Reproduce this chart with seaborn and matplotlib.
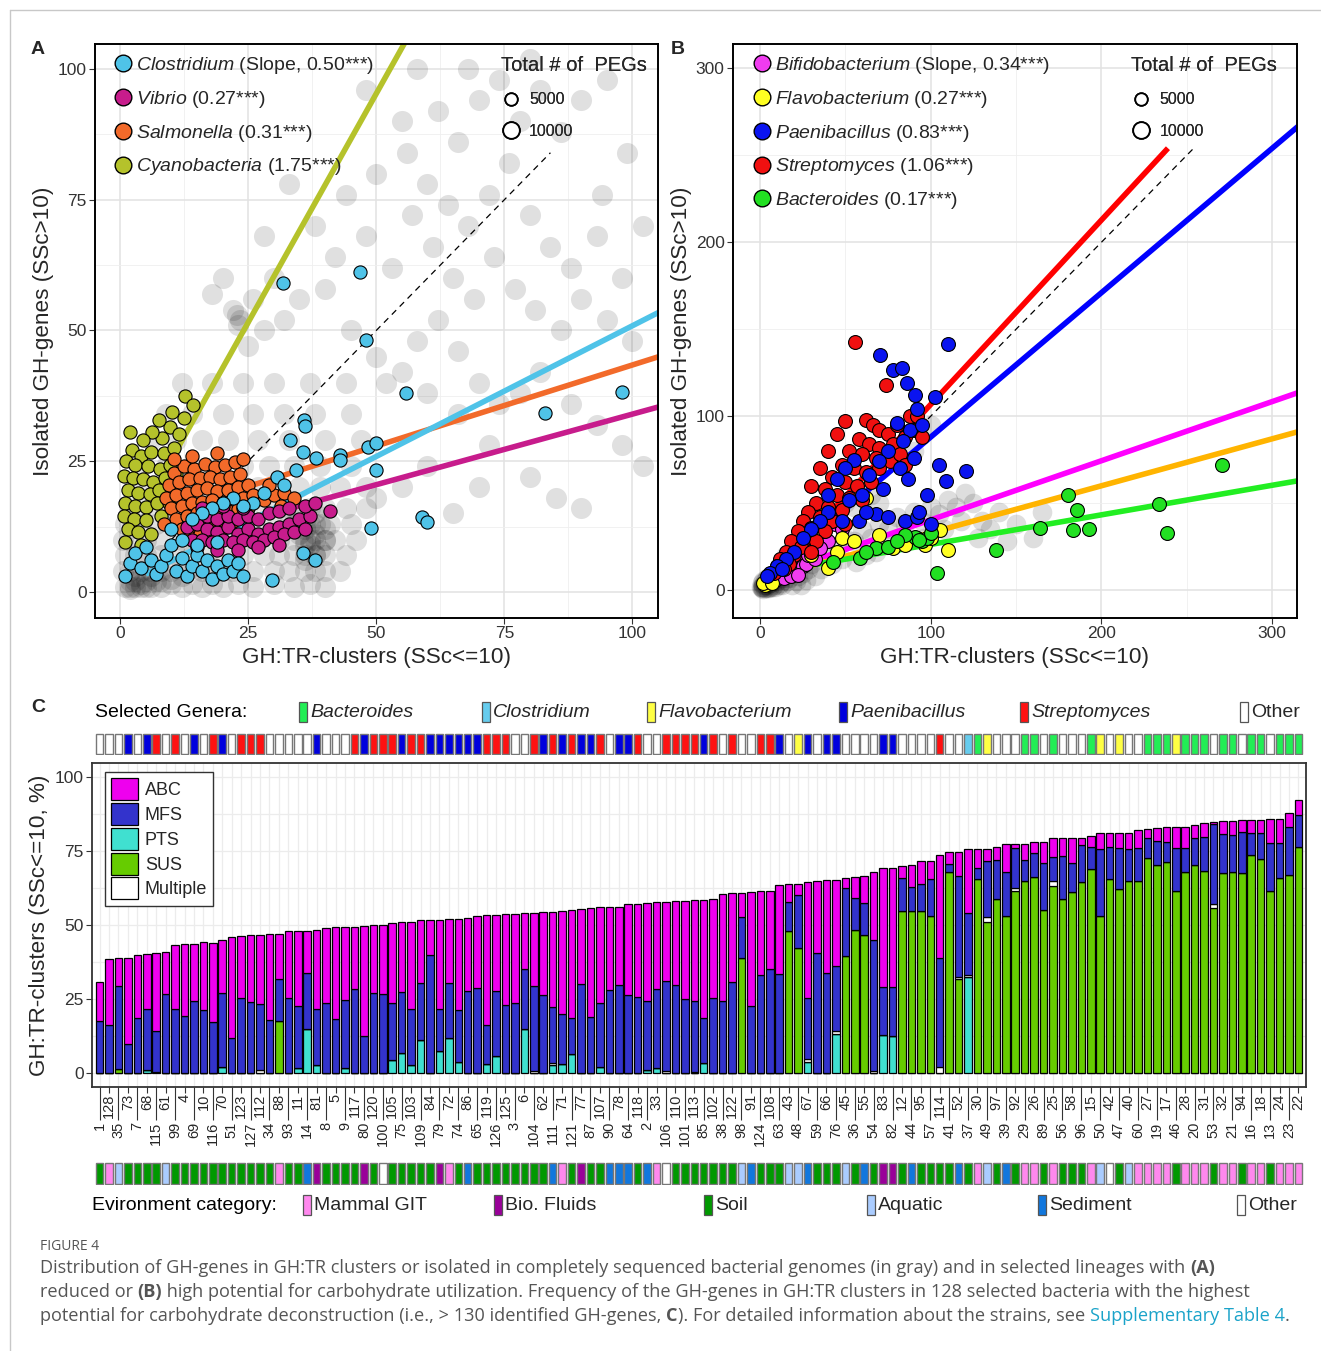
import numpy as np
import pandas as pd
import seaborn as sns
import matplotlib.pyplot as plt
from matplotlib.patches import Rectangle, Patch
from matplotlib.lines import Line2D

# ---------------- panel A data (GH:TR-clusters vs isolated GH-genes) ----------------
gray_a = [(1,1),(2,1),(3,1),(4,1),(5,1),(6,1),(8,1),(10,1.5),(12,1),(14,1.5),(16,1),(18,1.5),(20,1),(23,1.5),
          (26,1),(30,1.5),(34,1),(37,1.5),(40,1),
          (0.5,4),(2,4),(4,4),(6,4),(8,4),(10,4),(13,4),(16,4),(19,4),(22,4),(26,4),(30,4),(33,4),(36,4),(38,4),(40,4),(43,4),
          (1,7),(3,7),(5,7),(8,7),(11,7),(14,7),(17,7),(20,7),(24,7),(28,7),(31,7),(34,7),(36,7),(38,7),(40,7),(44,7),
          (0.5,10),(2,10),(5,10),(8,10),(12,10),(15,10),(19,10),(23,10),(27,10),(31,10),(34,10),(36,10),(38,10),(40,10),(42,10),(46,10),
          (1,13),(4,13),(7,13),(10,13),(14,13),(18,13),(22,13),(26,13),(30,13),(33,13),(36,13),(38,13),(41,13),(45,13),
          (2,16),(5,16),(9,16),(13,16),(17,16),(21,16),(25,16),(29,16),(33,16),(37,16),(40,16),(44,16),(48,16),
          (3,20),(7,20),(11,20),(15,20),(19,20),(23,20),(27,20),(31,20),(35,20),(39,20),(43,20),(48,20),
          (4,24),(9,24),(14,24),(19,24),(24,24),(29,24),(34,24),(39,24),(45,24),
          (6,29),(11,29),(16,29),(21,29),(27,29),(33,29),(40,29),(47,29),
          (9,34),(14,34),(20,34),(26,34),(32,34),(38,34),(45,34),
          (12,40),(18,40),(24,40),(30,40),(37,40),(44,40),(52,40),
          (37,9),(38,11),(36,12),(39,8),(35,14),(38,15),(36,6),(40,12),(37,10),(39,13),(36,9),(38,7),(35,11),
          (34,13),(40,10),(37,13),(3,2),(5,2),(2,2),(6,3),(4,1.5),(3,3),(7,2),(2,0.5),(8,2),(10,2.5),(12,3),
          (22.8,53),(23.5,52),(22,54),(23,51),(18,57),(20,60),
          (25,47),(28,50),(32,52),(26,56),(30,60),(35,56),(40,58),(45,50),(50,45),(55,42),(58,48),(62,52),(66,46),
          (70,40),(74,36),(78,38),(82,42),(88,36),(93,32),(98,28),(102,24),(42,64),(48,68),(53,62),(57,72),(61,66),
          (65,60),(69,56),(73,64),(77,58),(81,54),(86,50),(90,56),(95,52),(100,48),(44,76),(50,80),(56,84),(60,78),
          (64,74),(68,70),(72,76),(76,82),(80,72),(84,66),(88,62),(93,68),(98,60),(55,90),(62,92),(66,86),(70,94),
          (74,98),(78,90),(82,96),(86,88),(90,94),(95,98),(99,84),(68,100),(80,102),(94,76),(102,70),(48,96),(58,100),
          (38,70),(33,78),(28,68),(60,38),(66,34),(72,28),(80,22),(85,18),(90,16),(55,20),(60,24),(50,18),(65,15),(70,20)]

cyano_a = [(12.7,37.5),(14.2,35.8),(12.5,33.2),(10.2,34.5),(9.8,31.5),(7.5,32.8),(11.5,30.2),(8.2,29.5),(6.2,30.5),
           (4.5,29.0),(2.0,30.5),(2.3,27.2),(4.0,26.0),(6.0,26.8),(8.5,26.5),(10.5,27.5),(1.2,25.0),(3.0,24.2),
           (5.5,24.0),(7.8,23.5),(9.8,24.2),(0.8,22.2),(2.5,21.8),(4.5,21.5),(6.5,21.0),(8.8,21.8),(11.0,22.5),
           (1.5,19.5),(3.5,19.0),(5.8,18.8),(7.5,19.5),(1.0,17.0),(3.0,16.5),(5.0,16.2),(7.2,17.0),(0.8,14.5),
           (2.8,14.0),(5.0,13.8),(1.5,12.0),(3.5,11.5),(6.0,11.0),(1.0,9.5),(4.0,9.0),(8.0,14.5),(9.5,17.0)]
salm_a = [(10.5,22.8),(12.5,24.0),(14.5,23.5),(16.5,24.5),(18.5,23.8),(20.5,24.2),(22.5,24.8),(24.0,25.5),(9.5,20.5),
          (11.5,21.0),(13.5,21.5),(15.5,21.8),(17.5,22.0),(19.5,21.5),(21.5,22.0),(23.5,22.5),(9.0,18.0),(11.0,18.5),
          (13.0,19.0),(15.0,19.5),(17.0,19.8),(19.0,19.2),(21.0,19.5),(23.0,20.0),(25.0,20.5),(10.0,16.0),(12.0,16.5),
          (14.0,17.0),(16.0,17.2),(18.0,17.5),(20.0,17.0),(22.0,17.2),(24.0,18.0),(26.0,18.5),(11.0,14.0),(13.0,14.5),
          (15.0,15.0),(17.0,15.2),(19.0,15.0),(21.0,15.5),(23.0,15.8),(25.0,16.0),(12.0,12.0),(14.0,12.5),(16.0,13.0),
          (18.0,12.8),(20.0,13.2),(22.0,13.5),(13.5,10.5),(15.5,11.0),(17.5,10.8),(19.5,11.2),(28.0,17.5),(30.0,18.5),
          (32.0,19.0),(29.0,20.5),(31.5,16.5),(34.0,18.0),(10.5,25.5),(14.0,26.0),(19.0,26.5),(8.5,13.0)]
vib_a = [(13,12.5),(15,13),(17,12),(19,11.5),(21,12.5),(23,11),(25,12),(27,11),(29,12),(31,12.5),(33,13),(35,14),
         (37,14.5),(14,10),(16,10),(18,9.5),(20,10),(22,9.5),(24,10),(26,9.5),(28,10),(30,10.5),(32,11),(34,11.5),
         (36,12),(17,14.5),(19,14),(21,14.5),(23,14),(25,14.5),(27,14),(29,15),(31,15.5),(33,16),(36,16.5),(38,17),
         (41,15.5),(15,8.5),(19,8),(23,8),(27,8.5),(31,9),(24,16),(20,16.5),(16,16)]
clos_a = [(31.8,59.1),(46.9,61.2),(48,48.2),(55.9,38),(83,34.2),(98,38.2),(35.9,32.9),(36.1,31.7),(33.2,29),
          (35.7,26.8),(38.3,25.6),(43,26.2),(43,25.2),(48.4,27.7),(50,28.5),(50,23.3),(59,14.3),(60,13.4),(49,12.2),
          (29.7,2.3),(38,6.1),(35.7,7.5),(34.4,23.3),(30.7,22),(28,19),(32,20.5),(26,17),(24,16.5),(22,18),(20,17),
          (18,16),(16,15),(14,14),(1,3),(2,5.5),(3,7.5),(4,4.5),(5,8.5),(6,6),(7,3.5),(8,5),(9,7),(10,9),(11,4),
          (12,6.5),(13,3),(14,5),(15,7),(16,4),(17,6),(18,2.5),(19,5),(20,3.5),(21,6),(22,4),(23,5.5),(24,3),
          (15,9),(19,9.5),(10,12),(12,10)]

a_groups = ['Cyanobacteria', 'Salmonella', 'Vibrio', 'Clostridium']
a_points = [cyano_a, salm_a, vib_a, clos_a]
a_colors = ['#b5c22b', '#f26a2a', '#c71c8c', '#4fc3e8']
a_slopes = [1.75, 0.31, 0.27, 0.50]
a_intercepts = [7.8, 12.4, 7.0, 0.9]
a_line_span = [(8, 60), (8, 110), (12, 110), (5, 110)]
a_legend = [('Clostridium', ' (Slope, 0.50***)', '#4fc3e8'), ('Vibrio', ' (0.27***)', '#c71c8c'),
            ('Salmonella', ' (0.31***)', '#f26a2a'), ('Cyanobacteria', ' (1.75***)', '#b5c22b')]

# ---------------- panel B data ----------------
gray_b = [(1,1),(2,2),(3,1),(4,3),(5,2),(6,4),(8,3),(10,5),(12,4),(14,6),(16,5),(2,5),(4,7),(6,8),(8,9),(10,10),
          (12,11),(15,12),(18,10),(20,12),(22,8),(25,10),(28,12),(30,15),(18,16),(22,18),(26,20),(30,24),(35,28),
          (40,22),(45,25),(50,30),(55,28),(60,35),(65,30),(70,38),(75,35),(80,42),(85,38),(90,45),(95,40),(100,48),
          (105,44),(110,52),(115,48),(120,56),(125,50),(130,40),(135,35),(140,45),(150,38),(160,30),(40,40),(45,45),
          (50,50),(55,48),(60,60),(65,55),(70,50),(30,35),(35,38),(20,25),(25,30),(15,20),(1,4),(3,5),(5,1),(7,6),
          (9,2),(11,8),(13,3),(0.5,2),(2,0.5),(17,7),(19,3),(21,5),(24,3),(27,6),(32,8),(36,12),(42,15),(48,18),
          (56,16),(62,20),(68,22),(74,26),(84,28),(96,30),(108,35),(118,40),(128,30),(145,28),(165,45),(100,95),(90,80),
          (1,2),(3,3),(5,4),(7,2),(9,5),(11,3),(2,3),(4,1),(6,6),(8,6),(10,8),(13,7)]
strep_b = [(55.7,142.8),(73.8,118),(62,98),(66,95),(70,92),(75,90),(58,87),(64,84),(70,82),(78,84),(85,88),(52,80),
           (60,78),(68,76),(76,74),(48,72),(55,70),(62,68),(70,70),(42,65),(50,62),(57,60),(65,62),(38,58),(45,55),
           (52,53),(60,52),(33,50),(40,48),(48,46),(28,45),(35,42),(42,40),(50,38),(25,40),(30,36),(38,34),(22,34),
           (27,30),(33,28),(18,28),(24,25),(30,22),(15,22),(20,20),(12,18),(17,15),(10,14),(14,12),(8,10),(45,90),
           (40,80),(35,70),(30,60),(80,95),(88,100),(90,92),(95,88),(82,78),(85,72),(92,100),(50,97)]
paeni_b = [(110,141.6),(70.3,135.3),(78,126.6),(83,128),(86,119),(91,112),(102.5,111),(92,104),(120.7,68.5),
           (109,62.8),(98,55),(105,72),(64,66),(55,75),(50,70),(45,64),(80,96),(88,92),(95,95),(84,86),(75,80),
           (70,74),(82,70),(90,76),(60,55),(52,52),(40,45),(35,40),(48,40),(58,40),(68,44),(75,42),(85,40),(92,42),
           (100,38),(30,35),(25,30),(20,22),(15,18),(10,14),(6,10),(4,8),(13,12),(40,55),(62,45),(72,58),(87,64),(93,45)]
bifi_b = [(8,10),(10,12),(12,14),(14,13),(16,15),(18,14),(20,16),(22,15),(24,17),(26,18),(11,8),(13,9),(15,10),
          (17,11),(19,12),(21,11),(23,13),(25,14),(27,15),(9,6),(14,7),(18,8),(22,9),(28,20),(32,18),(44,38),(48,35),
          (40,28),(35,24),(30,22)]
flavo_b = [(3,3),(5,5),(2,4),(7,4),(37.5,45),(62,53),(40,13),(37,34),(78,24),(85,26),(105.5,34.5),(110,23),
           (96.7,26),(100,30),(92,30),(70,32),(48,30),(55,28),(30,20),(45,22)]
bact_b = [(270.6,72),(180.4,54.7),(186,46),(183.4,34.5),(192.7,35),(234,49.5),(238.4,32.8),(164,35.7),(138,23),
          (103.7,9.8),(90.8,30.5),(95,28),(98,30),(93,29),(58.6,18.4),(42.8,16.1),(68,24),(75,25),(85,32),(100,33),
          (62,22),(80,28)]

b_points = [bifi_b, flavo_b, bact_b, strep_b, paeni_b]
b_pt_colors = ['#f03cf0', '#ffff22', '#22e022', '#f01010', '#0a14f0']
b_slopes = [0.34, 0.27, 0.17, 1.06, 0.83]
b_intercepts = [6.4, 6.0, 9.3, 0.75, 5.0]
b_line_colors = ['#ff00ff', '#ffb400', '#22ee22', '#ff0000', '#0000ff']
b_line_span = [(20, 320), (20, 320), (20, 320), (5, 239), (5, 320)]
b_legend = [('Bifidobacterium', ' (Slope, 0.34***)', '#f03cf0'), ('Flavobacterium', ' (0.27***)', '#ffff22'),
            ('Paenibacillus', ' (0.83***)', '#0a14f0'), ('Streptomyces', ' (1.06***)', '#f01010'),
            ('Bacteroides', ' (0.17***)', '#22e022')]

# ---------------- panel C data (128 strains) ----------------
bar_labels = [1,128,35,73,7,68,115,61,99,4,69,10,116,70,51,123,127,112,34,88,93,11,14,81,8,5,9,117,80,120,100,105,
              75,103,109,84,79,72,74,86,65,119,126,125,3,6,104,62,111,71,121,77,87,107,90,78,64,118,2,33,106,110,101,113,
              85,102,38,122,98,91,124,108,63,43,48,67,59,66,76,45,36,55,54,83,82,12,44,95,57,114,41,52,37,30,49,97,
              39,92,29,26,89,25,56,58,96,15,50,42,47,40,60,27,19,17,46,28,20,31,53,32,21,94,16,18,13,24,23,22]

abc = [13.3,22.1,9.4,29.0,21.4,18.4,26.6,14.2,21.5,24.1,19.3,23.1,26.7,17.7,34.3,20.9,22.7,23.2,29.0,15.2,
       22.6,25.3,14.3,26.8,25.3,30.9,24.7,20.8,37.2,23.0,23.4,27.3,23.5,29.2,21.3,12.0,30.3,21.7,30.9,24.8,
       24.1,37.1,25.6,30.6,30.2,19.0,24.7,28.3,32.1,34.8,36.6,25.3,36.8,32.4,27.9,26.4,30.8,31.4,32.9,29.1,
       26.8,28.5,33.1,33.9,39.9,33.4,36.2,29.9,8.2,38.4,28.5,26.3,30.0,5.8,3.9,39.1,24.4,31.4,29.2,3.4,
       7.3,9.3,23.0,40.1,40.3,4.1,7.3,7.9,6.0,34.6,3.9,7.9,21.5,6.5,4.1,4.4,9.2,1.5,5.5,3.7,
       7.0,6.4,6.0,8.4,2.4,3.5,5.4,4.6,5.1,5.4,6.0,3.1,4.5,4.9,7.1,7.1,4.5,4.6,0.8,4.5,
       4.8,3.8,4.4,4.4,7.9,7.9,4.9,5.1]
mfs = [17.6,16.3,28.0,9.8,18.6,20.6,13.6,26.7,21.8,19.4,24.2,21.2,17.3,24.9,11.8,25.3,23.9,22.5,18.0,14.4,
       25.4,21.1,18.8,18.8,23.8,18.4,22.9,28.5,12.5,27.0,26.6,19.0,20.7,19.0,19.2,39.8,14.0,18.3,17.5,27.6,
       28.8,13.2,22.2,23.1,23.6,20.0,28.5,26.2,19.0,16.9,12.1,30.1,18.9,21.7,28.2,29.8,26.2,25.6,23.4,26.8,
       30.3,29.6,25.1,24.0,15.1,25.3,24.2,30.9,13.6,22.8,33.0,35.2,33.5,9.9,18.0,20.8,40.4,33.7,21.9,22.9,
       10.7,10.7,44.2,16.3,16.5,11.0,8.0,8.9,12.6,37.0,2.6,34.0,20.9,3.4,18.8,13.3,15.0,13.6,7.2,8.2,
       16.1,8.0,14.6,10.0,12.4,7.6,22.4,10.9,14.0,10.8,11.0,6.9,7.9,6.8,14.5,8.2,9.0,11.5,27.0,13.2,
       12.5,13.9,7.2,8.9,16.3,11.8,16.1,10.6]
pts = [0,0,0,0,0,1.2,0.5,0,0,0,0,0,0,2.2,0,0,0,0,0,0,
       0,1.7,15.0,2.8,0,0,1.7,0,0,0,0,4.5,6.7,2.8,11.2,0,7.5,12.0,3.7,0,
       0,3.0,5.6,0,0,15.0,0,0,2.8,3.0,6.4,0,0,1.9,0,0,0,0,1.1,1.7,
       0,0,0,0,3.4,0,0,0,0,0,0,0,0,0,0,3.7,0,0,13.1,0,
       0,0,0,12.7,12.5,0,0,0,0,0,0,0,32.6,0,0,0,0,0,0,0,
       0,0,0,0,0,0,0,0,0,0,0,0,0,0,0,0,0,0,0,0,
       0,0,0,0,0,0,0,0]
sus = [0,0,1.3,0,0,0,0,0,0,0,0,0,0,0,0,0,0,0,0,17.5,
       0,0,0,0,0,0,0,0,0,0,0,0,0,0,0,0,0,0,0,0,
       0,0,0,0,0,0,0,0,0,0,0,0,0,0,0,0,0,0,0,0,
       0,0,0,0,0,0,0,0,39.0,0,0,0,0,48.0,42.1,0,0,0,0,39.7,
       48.3,46.6,0,0,0,54.8,54.8,54.8,53.0,0,68.0,31.6,0,65.7,50.9,58.7,53.0,61.6,64.8,66.2,
       55.0,63.0,58.8,61.0,64.6,68.9,53.1,65.5,62.0,65.0,65.0,72.5,70.4,71.3,61.5,67.8,70.4,68.2,55.8,67.4,
       67.8,67.6,73.8,72.3,61.5,66.0,66.9,76.4]
mult = [0,0,0,0,0,0,0,0,0,0,0,0,0,0,0,0,0,0.9,0,0,
        0,0,0,0,0,0,0,0,0,0,0,0,0,0,0,0,0,0,0,0,
        0,0,0,0,0,0,0.8,0,0.6,0,0,0,0,0,0,0,0,0,0,0,
        0.8,0,0,0.5,0,0,0,0,0,0,0,0,0,0,0,1.0,0,0,1.0,0,
        0,0,0.8,0,0,0,0,0,0,2.0,0,1.0,0.5,0,1.8,0,0,0.8,0,0,
        0,2.0,0,0,0,0,0,0,0,0,0,0,0,0,0,0,0,0,1.2,0,
        0,0,0,0,0,0,0,0]

# selected genera strip (W other, B Paenibacillus, R Streptomyces, Y Flavobacterium, C Clostridium, G Bacteroides)
genus_strip = list('WWWBWBRWRWBWRBWRRRWWWWWBWWWRBRRRBRRBBBBBBRRRWWRBRBRBBRWBBRWWRRRR'
                   'BRWRWWRRBWYBWBBWWWWBBWWWWRWWCGYWWWGGWGWWWGYWYWWGGGYGGGWGGWGGWGGG')
genus_names = ['Bacteroides', 'Clostridium', 'Flavobacterium', 'Paenibacillus', 'Streptomyces', 'Other']
genus_codes = ['G', 'C', 'Y', 'B', 'R', 'W']
genus_colors = ['#22ee55', '#66ccee', '#ffff44', '#0000dd', '#ff1111', '#ffffff']

# environment strip (G soil, P mammal GIT, A aquatic, S sediment, F bio fluids, W other)
env_strip = list('GPAGGGGAGGGGGGGGGGGPGGSFGGGGFGWG'
                 'GGGGFPGSGGGGGGGGSPGFGGSSSGSPWGGG'
                 'GGGGASGGGAASGGGAGSGFFGSGGGGSGPAGS'
                 'GPPGPGGGPAWGAPPPPGPPPGPPGPPGPPP')
env_names = ['Mammal GIT', 'Bio. Fluids', 'Soil', 'Aquatic', 'Sediment', 'Other']
env_codes = ['P', 'F', 'G', 'A', 'S', 'W']
env_colors = ['#ff88ee', '#990099', '#009900', '#aaccff', '#1177dd', '#ffffff']

stack_names = ['PTS', 'SUS', 'Multiple', 'MFS', 'ABC']
stack_values = [pts, sus, mult, mfs, abc]
stack_colors = ['#40e0d0', '#66cc00', '#ffffff', '#3333cc', '#ee00ee']
legend_order = ['ABC', 'MFS', 'PTS', 'SUS', 'Multiple']

# ---------------- style ----------------
sns.set_theme(style='white')
plt.rcParams['font.family'] = ['Liberation Sans', 'DejaVu Sans']
plt.rcParams['mathtext.fontset'] = 'custom'
plt.rcParams['mathtext.it'] = 'Liberation Sans:italic'
plt.rcParams['mathtext.rm'] = 'Liberation Sans'
plt.rcParams['mathtext.bf'] = 'Liberation Sans:bold'

W, H = 1321, 1351
fig = plt.figure(figsize=(W / 100, H / 100), dpi=100)


def box(l, t, r, b):
    return [l / W, 1 - b / H, (r - l) / W, (b - t) / H]


def style_scatter(ax, xlim, ylim, major, minor_step):
    ax.set_xlim(*xlim)
    ax.set_ylim(*ylim)
    ax.set_xticks(major[0])
    ax.set_yticks(major[1])
    ax.set_xticks(np.arange(major[0][0] + minor_step[0] / 2, xlim[1], minor_step[0]), minor=True)
    ax.set_yticks(np.arange(major[1][0] + minor_step[1] / 2, ylim[1], minor_step[1]), minor=True)
    ax.grid(which='major', color='#e2e2e2', lw=1.1)
    ax.grid(which='minor', color='#efefef', lw=0.6)
    ax.set_axisbelow(True)
    for s in ax.spines.values():
        s.set_color('black')
        s.set_linewidth(1.4)
    ax.tick_params(which='major', length=4, width=0.8, color='#333333', labelsize=12.5,
                   labelcolor='#333333', pad=2, bottom=True, left=True)
    ax.tick_params(which='minor', length=0)


def to_df(points):
    return pd.DataFrame(points, columns=['x', 'y'])


def size_legend(ax, anchor):
    handles = [Line2D([], [], marker='o', ls='', mfc='white', mec='black', mew=1.3, ms=s) for s in (9, 12)]
    lg = ax.legend(handles, ['5000', '10000'], title='Total # of  PEGs', loc='upper right',
                   bbox_to_anchor=anchor, frameon=False, fontsize=11.5, title_fontsize=14.5,
                   alignment='left', handlelength=1.2, handletextpad=0.55, labelspacing=1.05, borderpad=0.2)
    ax.add_artist(lg)


def genus_legend(ax, entries, anchor_x):
    handles = [Line2D([], [], marker='o', ls='', mfc=c, mec='black', mew=1.0, ms=12) for _, _, c in entries]
    labels = [r'$\it{' + g + '}$' + rest for g, rest, _ in entries]
    lg = ax.legend(handles, labels, loc='upper left', bbox_to_anchor=(anchor_x, 1.008), frameon=False,
                   fontsize=14, handlelength=1.0, handletextpad=0.15, labelspacing=0.66, borderpad=0.3)
    ax.add_artist(lg)


# ---------------- panel A ----------------
axa = fig.add_axes(box(95, 44, 658, 618))
sns.scatterplot(data=to_df(gray_a), x='x', y='y', color='black', alpha=0.12, s=230, linewidth=0,
                legend=False, ax=axa, zorder=1)
axa.plot([10, 84], [10, 84], ls=(0, (5, 4)), color='black', lw=0.9, zorder=2)
for sl, ic, span, c in zip(a_slopes, a_intercepts, a_line_span, a_colors):
    xs = np.array(span)
    axa.plot(xs, ic + sl * xs, color=c, lw=4, solid_capstyle='butt', zorder=2)
for pts_, c in zip(a_points, a_colors):
    sns.scatterplot(data=to_df(pts_), x='x', y='y', color=c, edgecolor='black', linewidth=0.8, s=90,
                    legend=False, ax=axa, zorder=3)
style_scatter(axa, (-4.9, 105), (-5, 104.8), ([0, 25, 50, 75, 100], [0, 25, 50, 75, 100]), (25, 25))
axa.set_xlabel('GH:TR-clusters (SSc<=10)', fontsize=16.2, labelpad=4)
axa.set_ylabel('Isolated GH-genes (SSc>10)', fontsize=16.2, labelpad=3)
genus_legend(axa, a_legend, 0.005)
size_legend(axa, (1.0, 0.998))

# ---------------- panel B ----------------
axb = fig.add_axes(box(733, 44, 1297, 618))
sns.scatterplot(data=to_df(gray_b), x='x', y='y', color='black', alpha=0.13, s=200, linewidth=0,
                legend=False, ax=axb, zorder=1)
axb.plot([20, 254], [20, 254], ls=(0, (5, 4)), color='black', lw=0.9, zorder=2)
for sl, ic, span, c in zip(b_slopes, b_intercepts, b_line_span, b_line_colors):
    xs = np.array(span)
    axb.plot(xs, ic + sl * xs, color=c, lw=4, solid_capstyle='butt', zorder=2)
for pts_, c in zip(b_points, b_pt_colors):
    sns.scatterplot(data=to_df(pts_), x='x', y='y', color=c, edgecolor='black', linewidth=0.8, s=100,
                    legend=False, ax=axb, zorder=3)
style_scatter(axb, (-15.8, 314.6), (-16, 314), ([0, 100, 200, 300], [0, 100, 200, 300]), (100, 100))
axb.set_xlabel('GH:TR-clusters (SSc<=10)', fontsize=16.2, labelpad=4)
axb.set_ylabel('Isolated GH-genes (SSc>10)', fontsize=16.2, labelpad=3)
genus_legend(axb, b_legend, 0.007)
size_legend(axb, (0.985, 0.998))

# ---------------- panel C ----------------
n = len(bar_labels)
xpos = np.arange(n)
xlim_c = (-0.8, n - 0.2)

axc = fig.add_axes(box(92, 763, 1306, 1087))
bottom = np.zeros(n)
for name, vals, c in zip(stack_names, stack_values, stack_colors):
    vals = np.array(vals, dtype=float)
    axc.bar(xpos, vals, bottom=bottom, width=0.8, color=c, edgecolor='black', linewidth=0.9, zorder=2)
    bottom += vals
axc.set_xlim(*xlim_c)
axc.set_ylim(-4.7, 104.7)
axc.set_yticks([0, 25, 50, 75, 100])
axc.set_yticks([12.5, 37.5, 62.5, 87.5], minor=True)
axc.set_xticks(xpos[0::2])
axc.set_xticklabels([str(v) for v in bar_labels[0::2]], rotation=90)
axc.set_xticks(xpos[1::2], minor=True)
axc.set_xticklabels([str(v) for v in bar_labels[1::2]], rotation=90, minor=True)
axc.grid(which='both', color='#ececec', lw=0.9, zorder=0)
axc.set_axisbelow(True)
for s in axc.spines.values():
    s.set_color('#333333')
    s.set_linewidth(1.3)
axc.tick_params(axis='x', which='major', length=24, width=0.8, pad=1, labelsize=10.5, color='#333333',
                bottom=True)
axc.tick_params(axis='x', which='minor', length=4, width=0.8, pad=1, labelsize=10.5, color='#333333',
                bottom=True)
axc.tick_params(axis='y', which='major', length=4, width=0.8, labelsize=12.5, labelcolor='#333333',
                color='#333333', left=True, pad=2)
axc.tick_params(axis='y', which='minor', length=0)
axc.set_ylabel('GH:TR-clusters (SSc<=10, %)', fontsize=16.2, labelpad=3)
cmap_stack = dict(zip(stack_names, stack_colors))
leg_handles = [Patch(facecolor=cmap_stack[nm], edgecolor='black', lw=0.9) for nm in legend_order]
axc.legend(leg_handles, legend_order, loc='upper left', bbox_to_anchor=(0.0107, 0.972), borderaxespad=0,
           fontsize=13, handlelength=1.5, handleheight=1.5, handletextpad=0.35, labelspacing=0.15,
           borderpad=0.35, fancybox=False, edgecolor='#333333', framealpha=1)

# genus strip
axg = fig.add_axes(box(92, 733, 1306, 755))
gmap = dict(zip(genus_codes, genus_colors))
axg.bar(xpos, 1, width=0.8, color=[gmap[g] for g in genus_strip], edgecolor='#777777', linewidth=1.0)
axg.set_xlim(*xlim_c)
axg.set_ylim(-0.04, 1.04)
axg.axis('off')

# environment strip
axe = fig.add_axes(box(92, 1162, 1306, 1185))
emap = dict(zip(env_codes, env_colors))
axe.bar(xpos, 1, width=0.8, color=[emap[e] for e in env_strip], edgecolor='#777777', linewidth=1.0)
axe.set_xlim(*xlim_c)
axe.set_ylim(-0.04, 1.04)
axe.axis('off')


def strip_legend(title, title_x, y, names, colors, xs, italic):
    fig.text(title_x / W, 1 - y / H, title, fontsize=14, va='center', ha='left', color='black')
    for nm, c, x in zip(names, colors, xs):
        fig.add_artist(Rectangle((x / W, 1 - (y + 10) / H), 8 / W, 20 / H, transform=fig.transFigure,
                                 facecolor=c, edgecolor='#555555', lw=0.9))
        fig.text((x + 11) / W, 1 - y / H, nm, fontsize=14, va='center', ha='left',
                 style='italic' if (italic and nm != 'Other') else 'normal')


strip_legend('Selected Genera:', 95, 712, genus_names, genus_colors, [299, 482, 647, 839, 1020, 1240], True)
strip_legend('Evironment category:', 92, 1205, env_names, env_colors, [303, 494, 704, 867, 1038, 1237], False)

# panel letters
for letter, x, y in [('A', 38, 50), ('B', 678, 50), ('C', 38, 707)]:
    fig.text(x / W, 1 - y / H, letter, fontsize=14, fontweight='bold', ha='center', va='center')

# outer frame lines
fig.add_artist(Line2D([10 / W, 1], [1 - 10 / H, 1 - 10 / H], transform=fig.transFigure, color='#c8c8c8', lw=1))
fig.add_artist(Line2D([10 / W, 10 / W], [1 - 10 / H, 0], transform=fig.transFigure, color='#c8c8c8', lw=1))

# caption
cap_kw = dict(fontsize=13.1, color='#555555', va='center', ha='left', family=['Open Sans', 'DejaVu Sans'])
fig.text(40 / W, 1 - 1246 / H, 'FIGURE 4', fontsize=10, color='#555555', va='center',
         family=['Open Sans', 'DejaVu Sans'])
renderer = fig.canvas.get_renderer()


def text_runs(x_px, y_px, runs):
    x = x_px / W
    for s, extra in runs:
        kw = dict(cap_kw)
        kw.update(extra)
        t = fig.text(x, 1 - y_px / H, s, **kw)
        bb = t.get_window_extent(renderer=renderer)
        x = bb.x1 / fig.bbox.width


bold = {'fontweight': 'bold'}
text_runs(40, 1268, [('Distribution of GH-genes in GH:TR clusters or isolated in completely sequenced bacterial '
                      'genomes (in gray) and in selected lineages with\u00a0', {}), ('(A)', bold)])
text_runs(40, 1292, [('reduced or\u00a0', {}), ('(B)', bold),
                     ('\u00a0high potential for carbohydrate utilization. Frequency of the GH-genes in GH:TR clusters '
                      'in 128 selected bacteria with the highest', {})])
text_runs(40, 1316, [('potential for carbohydrate deconstruction (i.e., > 130 identified GH-genes,\u00a0', {}),
                     ('C', bold), ('). For detailed information about the strains, see\u00a0', {}),
                     ('Supplementary Table 4', {'color': '#1aa3c9'}), ('.', {})])

fig.savefig('out.png', dpi=100)
